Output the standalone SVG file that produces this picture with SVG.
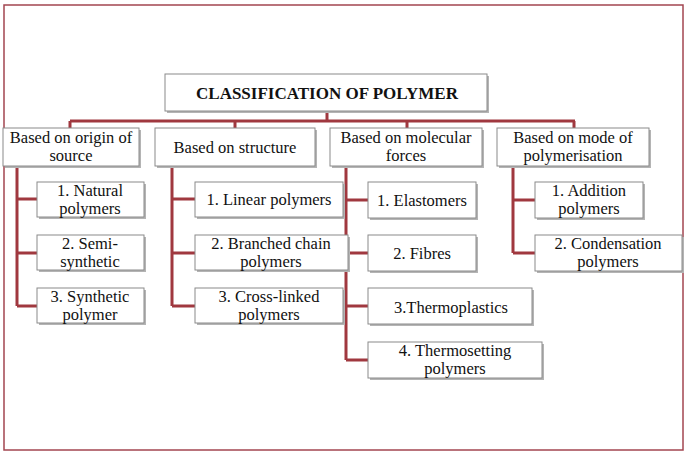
<svg xmlns="http://www.w3.org/2000/svg" width="690" height="459" viewBox="0 0 690 459">
<style>
.bx{fill:#fff;stroke:#8a8a8a;stroke-width:1}
.sh{fill:#b4b4b4}
text{font-family:'Liberation Serif','Times New Roman','DejaVu Serif',serif;fill:#111;text-anchor:middle}
.t{font-size:16.5px}
.tb{font-size:17px;font-weight:bold}
.c{fill:none;stroke:#a0383f;stroke-width:3}
</style>
<rect width="690" height="459" fill="#fff"/>
<rect x="4" y="5" width="679" height="445" fill="none" stroke="#a34650" stroke-width="1.5"/>
<g id="connectors">
<path class="c" d="M327 111V121M70 121H575M70 121V128M235 121V128M407 121V128M574 121V128"/>
<path class="c" d="M17 166V306M17 199H37M17 253H37M17 306H37"/>
<path class="c" d="M172 166V306M172 199H195M172 253H195M172 306H195"/>
<path class="c" d="M346 166V360M346 200H368M346 253H368M346 306H368M346 360H368"/>
<path class="c" d="M513 166V253M513 200H535M513 253H535"/>
</g>
<g id="title"><rect class="sh" x="167" y="76" width="322" height="37"/><rect class="bx" x="165" y="74" width="322" height="37"/><text class="tb" x="327" y="99">CLASSIFICATION OF POLYMER</text></g>
<g id="origin"><rect class="sh" x="5" y="130" width="136" height="38"/><rect class="bx" x="3" y="128" width="136" height="38"/><text class="t" x="71" y="143">Based on origin of</text><text class="t" x="71" y="161">source</text></g>
<g id="structure"><rect class="sh" x="157" y="130" width="160" height="38"/><rect class="bx" x="155" y="128" width="160" height="38"/><text class="t" x="235" y="153">Based on structure</text></g>
<g id="molecular"><rect class="sh" x="332" y="130" width="152" height="38"/><rect class="bx" x="330" y="128" width="152" height="38"/><text class="t" x="406" y="143">Based on molecular</text><text class="t" x="406" y="161">forces</text></g>
<g id="mode"><rect class="sh" x="499" y="130" width="152" height="38"/><rect class="bx" x="497" y="128" width="152" height="38"/><text class="t" x="573" y="143">Based on mode of</text><text class="t" x="573" y="161">polymerisation</text></g>
<g id="natural"><rect class="sh" x="39" y="184" width="107" height="35"/><rect class="bx" x="37" y="182" width="107" height="35"/><text class="t" x="90" y="196">1. Natural</text><text class="t" x="90" y="214">polymers</text></g>
<g id="semi"><rect class="sh" x="39" y="237" width="107" height="35"/><rect class="bx" x="37" y="235" width="107" height="35"/><text class="t" x="90" y="249">2. Semi-</text><text class="t" x="90" y="267">synthetic</text></g>
<g id="synthetic"><rect class="sh" x="39" y="290" width="107" height="35"/><rect class="bx" x="37" y="288" width="107" height="35"/><text class="t" x="90" y="302">3. Synthetic</text><text class="t" x="90" y="320">polymer</text></g>
<g id="linear"><rect class="sh" x="197" y="184" width="148" height="35"/><rect class="bx" x="195" y="182" width="148" height="35"/><text class="t" x="269" y="205">1. Linear polymers</text></g>
<g id="branched"><rect class="sh" x="197" y="237" width="153" height="35"/><rect class="bx" x="195" y="235" width="153" height="35"/><text class="t" x="271" y="249">2. Branched chain</text><text class="t" x="271" y="267">polymers</text></g>
<g id="crosslinked"><rect class="sh" x="197" y="290" width="148" height="35"/><rect class="bx" x="195" y="288" width="148" height="35"/><text class="t" x="269" y="302">3. Cross-linked</text><text class="t" x="269" y="320">polymers</text></g>
<g id="elastomers"><rect class="sh" x="370" y="184" width="108" height="36"/><rect class="bx" x="368" y="182" width="108" height="36"/><text class="t" x="422" y="206">1. Elastomers</text></g>
<g id="fibres"><rect class="sh" x="370" y="237" width="108" height="36"/><rect class="bx" x="368" y="235" width="108" height="36"/><text class="t" x="422" y="259">2. Fibres</text></g>
<g id="thermoplastics"><rect class="sh" x="370" y="290" width="164" height="36"/><rect class="bx" x="368" y="288" width="164" height="36"/><text class="t" x="451" y="313">3.Thermoplastics</text></g>
<g id="thermosetting"><rect class="sh" x="370" y="344" width="174" height="36"/><rect class="bx" x="368" y="342" width="174" height="36"/><text class="t" x="455" y="356">4. Thermosetting</text><text class="t" x="455" y="374">polymers</text></g>
<g id="addition"><rect class="sh" x="537" y="184" width="108" height="36"/><rect class="bx" x="535" y="182" width="108" height="36"/><text class="t" x="589" y="196">1. Addition</text><text class="t" x="589" y="214">polymers</text></g>
<g id="condensation"><rect class="sh" x="537" y="237" width="147" height="36"/><rect class="bx" x="535" y="235" width="147" height="36"/><text class="t" x="608" y="249">2. Condensation</text><text class="t" x="608" y="267">polymers</text></g>
</svg>
